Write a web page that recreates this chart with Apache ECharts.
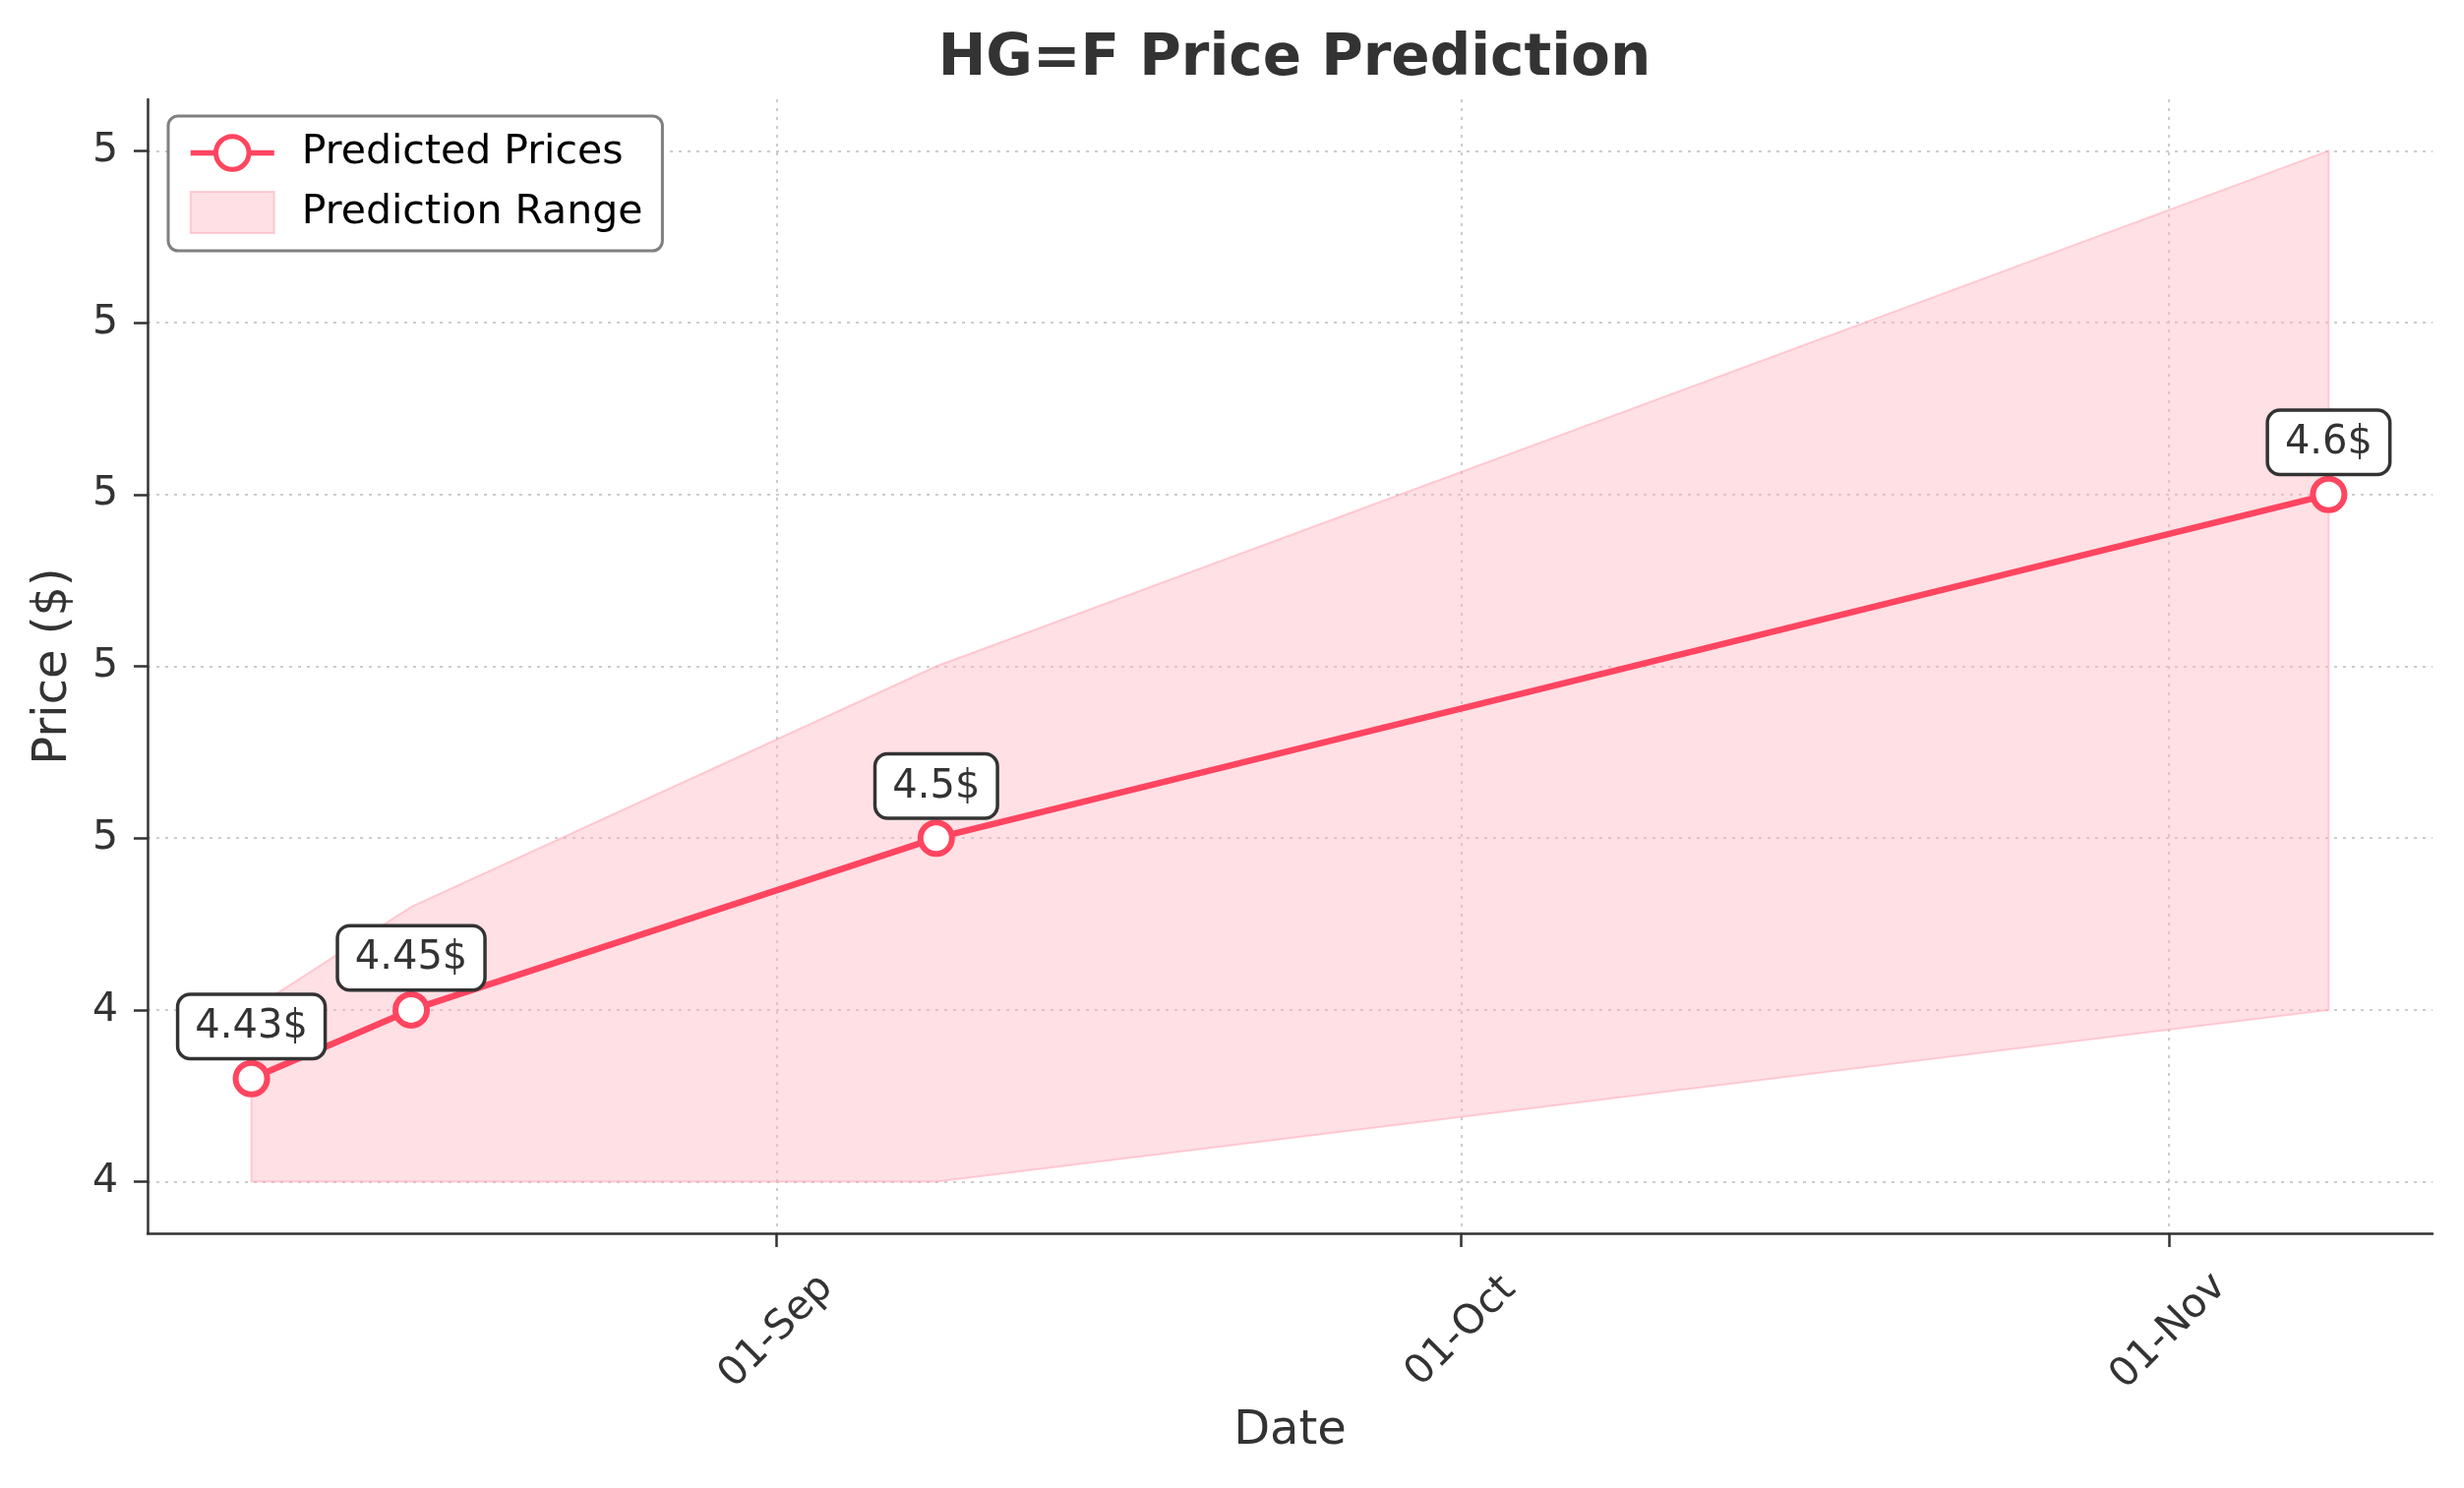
<!DOCTYPE html>
<html>
<head>
<meta charset="utf-8">
<title>HG=F Price Prediction</title>
<script src="https://cdn.jsdelivr.net/npm/echarts@6/dist/echarts.min.js"></script>
<style>
  html, body { margin: 0; padding: 0; background: #fff; }
  #chart { width: 2505px; height: 1513px; }
</style>
</head>
<body>
<div id="chart"></div>
<script>
// data
var dates = ['2024-08-09', '2024-08-16', '2024-09-08', '2024-11-08'];
var predicted = [4.43, 4.45, 4.5, 4.6];
var lower = [4.40, 4.40, 4.40, 4.45];
var upper = [4.45, 4.48, 4.55, 4.70];

var xTickDates = ['2024-09-01', '2024-10-01', '2024-11-01'];
var xTickLabels = ['01-Sep', '01-Oct', '01-Nov'];
var yTickValues = [4.40, 4.45, 4.50, 4.55, 4.60, 4.65, 4.70];
var yTickLabels = ['4', '4', '5', '5', '5', '5', '5'];

function ts(s) {
    var p = s.split('-');
    return Date.UTC(+p[0], +p[1] - 1, +p[2]);
}

var t = dates.map(ts);
var xTicks = xTickDates.map(ts);
var pad = (t[t.length - 1] - t[0]) * 0.05;

var red = '#FF4560';
var bandFill = 'rgba(255, 182, 193, 0.42)';
var bandEdge = 'rgba(255, 170, 185, 0.55)';
var font = 'DejaVu Sans';

var myChart = echarts.init(document.getElementById('chart'));
myChart.setOption({
    backgroundColor: '#fff',
    animation: false,
    title: {
        text: 'HG=F Price Prediction',
        left: 1311,
        textAlign: 'center',
        top: 27,
        textStyle: { fontFamily: font, fontSize: 58, fontWeight: 'bold', color: '#333' }
    },
    legend: {
        orient: 'vertical',
        left: 171,
        top: 118,
        padding: [17, 20, 17, 20],
        itemWidth: 85,
        itemHeight: 42,
        itemGap: 18,
        backgroundColor: '#fff',
        borderColor: '#808080',
        borderWidth: 3,
        borderRadius: 10,
        itemStyle: { borderWidth: 5 },
        lineStyle: { width: 5.5 },
        textStyle: { fontFamily: font, fontSize: 41, color: '#000', padding: [0, 0, 0, 23] },
        data: [
            { name: 'Predicted Prices' },
            { name: 'Prediction Range', icon: 'rect',
              itemStyle: { color: bandFill, borderColor: bandEdge, borderWidth: 2 } }
        ]
    },
    grid: {
        left: 150,
        right: 32,
        top: 101,
        bottom: 259,
        outerBoundsMode: 'none'
    },
    xAxis: {
        type: 'value',
        min: t[0] - pad,
        max: t[t.length - 1] + pad,
        name: 'Date',
        nameLocation: 'middle',
        nameGap: 178,
        nameTextStyle: { fontFamily: font, fontSize: 48, color: '#333' },
        axisLine: { lineStyle: { color: '#333', width: 2.5 } },
        axisTick: { show: true, length: 14, lineStyle: { color: '#333', width: 2.5 }, customValues: xTicks },
        axisLabel: {
            customValues: xTicks,
            rotate: 45,
            align: 'center',
            verticalAlign: 'middle',
            margin: 100,
            fontFamily: font,
            fontSize: 41,
            color: '#333',
            formatter: function (v) {
                var i = xTicks.indexOf(v);
                return i >= 0 ? xTickLabels[i] : '';
            }
        },
        splitLine: { show: true, lineStyle: { color: '#cccccc', width: 2, type: [3, 6] } }
    },
    yAxis: {
        type: 'value',
        min: 4.385,
        max: 4.715,
        name: 'Price ($)',
        nameLocation: 'middle',
        nameGap: 71,
        nameTextStyle: { fontFamily: font, fontSize: 48, color: '#333' },
        axisLine: { show: true, lineStyle: { color: '#333', width: 2.5 } },
        axisTick: { show: true, length: 14, lineStyle: { color: '#333', width: 2.5 }, customValues: yTickValues },
        axisLabel: {
            customValues: yTickValues,
            margin: 30,
            fontFamily: font,
            fontSize: 41,
            color: '#333',
            formatter: function (v) {
                for (var i = 0; i < yTickValues.length; i++) {
                    if (Math.abs(yTickValues[i] - v) < 1e-6) return yTickLabels[i];
                }
                return '';
            }
        },
        splitLine: { show: true, lineStyle: { color: '#cccccc', width: 2, type: [3, 6] } }
    },
    series: [
        {
            // shaded range between lower and upper bounds, drawn once as one polygon
            name: 'Prediction Range',
            type: 'custom',
            silent: true,
            itemStyle: { color: bandFill },
            encode: { x: 0, y: [1, 2] },
            data: t.map(function (x, i) { return [x, lower[i], upper[i]]; }),
            renderItem: function (params, api) {
                if (params.dataIndex !== 0) return;
                var pts = [];
                for (var i = 0; i < t.length; i++) pts.push(api.coord([t[i], upper[i]]));
                for (var j = t.length - 1; j >= 0; j--) pts.push(api.coord([t[j], lower[j]]));
                return {
                    type: 'polygon',
                    shape: { points: pts },
                    style: { fill: bandFill, stroke: bandEdge, lineWidth: 2 }
                };
            }
        },
        {
            name: 'Predicted Prices',
            type: 'line',
            symbol: 'circle',
            symbolSize: 32,
            z: 5,
            itemStyle: { color: '#fff', borderColor: red, borderWidth: 6 },
            lineStyle: { color: red, width: 6.5 },
            label: {
                show: true,
                position: 'top',
                distance: 3,
                fontFamily: font,
                fontSize: 40,
                color: '#333',
                backgroundColor: '#fff',
                borderColor: '#333',
                borderWidth: 3.5,
                borderRadius: 11,
                padding: [12, 16, 10, 16],
                formatter: function (p) { return p.value[1] + '$'; }
            },
            data: t.map(function (x, i) { return [x, predicted[i]]; })
        }
    ]
});
</script>
</body>
</html>
